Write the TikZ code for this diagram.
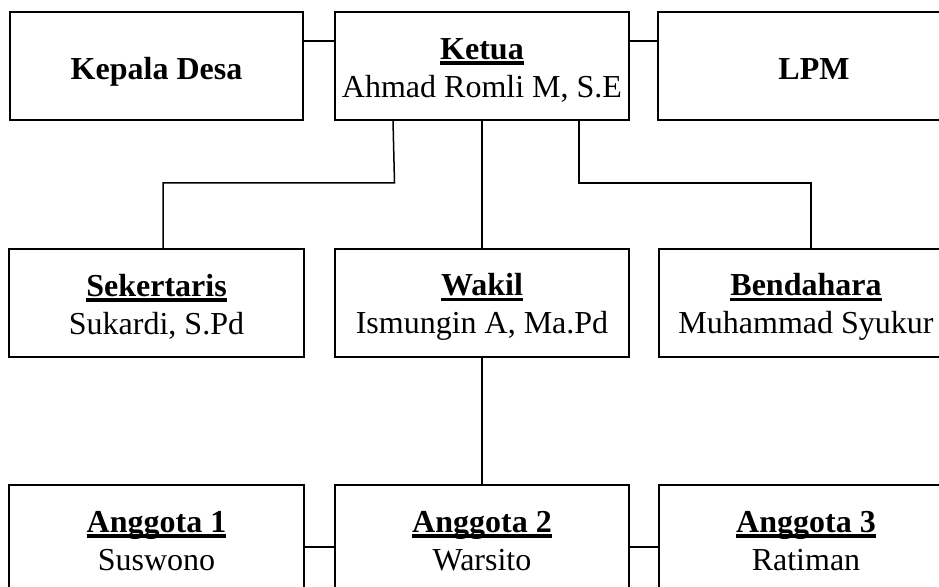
\documentclass[tikz,border=0pt]{standalone}
\usepackage{fontspec}
\setmainfont{Liberation Serif}
\newsavebox\ulbox
\newcommand\ulx[1]{\sbox\ulbox{#1}\rlap{\rule[-5.5pt]{\wd\ulbox}{3.2pt}}\usebox\ulbox}
\newcommand\hd[1]{\textbf{\ulx{#1}}\rule{0pt}{30pt}}
\newcommand\lo{\rule[-6pt]{0pt}{6pt}}
\newcommand\one{\rule{0pt}{33pt}\rule[-7pt]{0pt}{7pt}}
\tikzset{
  box/.style={draw, line width=1.5pt, minimum width=294pt, minimum height=108pt,
    inner sep=0pt, align=center, font=\fontsize{32}{38}\selectfont},
  conn/.style={line width=1.5pt}
}
\begin{document}
\begin{tikzpicture}[x=1pt,y=-1pt]
\useasboundingbox (0,0) rectangle (939,586);
\clip (0,0) rectangle (939,586);
% top row
\node[box, minimum width=293pt] (kepala) at (156.5,66) {\textbf{Kepala Desa}\one};
\node[box] (ketua) at (482,66) {\hd{Ketua}\\Ahmad Romli M, S.E\lo};
\node[box, minimum width=312pt] (lpm) at (814,66) {\textbf{LPM}\one};
% middle row
\node[box, minimum width=295pt] (sek) at (156.5,303) {\hd{Sekertaris}\\Sukardi, S.Pd\lo};
\node[box] (wakil) at (482,303) {\hd{Wakil}\\Ismungin A, Ma.Pd\lo};
\node[box] (bend) at (806,303) {\hd{Bendahara}\\Muhammad Syukur\lo};
% bottom row
\node[box, minimum width=295pt] (a1) at (156.5,539) {\hd{Anggota 1}\\Suswono\lo};
\node[box] (a2) at (482,539) {\hd{Anggota 2}\\Warsito\lo};
\node[box] (a3) at (806,539) {\hd{Anggota 3}\\Ratiman\lo};
% connectors
\draw[conn] ([yshift=25pt]kepala.east) -- ([yshift=25pt]ketua.west);
\draw[conn] ([yshift=25pt]ketua.east) -- ([yshift=25pt]lpm.west);
\draw[conn] ([xshift=-89pt]ketua.south) -- ++(1.5,62) -| ([xshift=6.5pt]sek.north);
\draw[conn] ([xshift=97pt]ketua.south) -- ++(0,62) -| ([xshift=5pt]bend.north);
\draw[conn] (ketua.south) -- (wakil.north);
\draw[conn] (wakil.south) -- (a2.north);
\draw[conn] ([yshift=-8pt]a1.east) -- ([yshift=-8pt]a2.west);
\draw[conn] ([yshift=-8pt]a2.east) -- ([yshift=-8pt]a3.west);
\end{tikzpicture}
\end{document}
